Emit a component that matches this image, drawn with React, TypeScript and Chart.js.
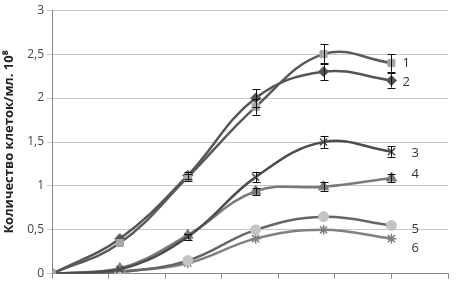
import React, { useEffect, useRef } from "react";
import { Chart, registerables } from "chart.js";

Chart.register(...registerables);

const hours = [0, 24, 48, 72, 96, 120];
const series1 = [0, 0.35, 1.1, 1.9, 2.5, 2.4];
const series2 = [0, 0.4, 1.12, 2.0, 2.3, 2.2];
const series3 = [0, 0.05, 0.42, 1.1, 1.5, 1.39];
const series4 = [0, 0.06, 0.44, 0.94, 0.99, 1.09];
const series5 = [0, 0.02, 0.15, 0.5, 0.65, 0.55];
const series6 = [0, 0.03, 0.12, 0.4, 0.5, 0.4];
const errors1 = [0, 0, 0.04, 0.09, 0.11, 0.1];
const errors2 = [0, 0, 0.04, 0.1, 0.1, 0.08];
const errors3 = [0, 0, 0.03, 0.06, 0.07, 0.06];
const errors4 = [0, 0, 0, 0.04, 0.05, 0.05];
const errors5 = [0, 0, 0, 0, 0, 0];
const errors6 = [0, 0, 0, 0, 0, 0];
const seriesLabels = ["1", "2", "3", "4", "5", "6"];
const yTicks = [0, 0.5, 1, 1.5, 2, 2.5, 3];

const allSeries = [series1, series2, series3, series4, series5, series6];
const allErrors = [errors1, errors2, errors3, errors4, errors5, errors6];

const styles = [
  { line: "#5a5a5a", fill: "#a6a6a6", point: "rect", r: 5 },
  { line: "#555555", fill: "#555555", point: "rectRot", r: 5 },
  { line: "#4d4d4d", fill: "#4d4d4d", point: "crossRot", r: 5 },
  { line: "#7a7a7a", fill: "#7a7a7a", point: "triangle", r: 6 },
  { line: "#666666", fill: "#c4c4c4", point: "circle", r: 5 },
  { line: "#808080", fill: "#808080", point: "star", r: 5 },
];

const labelOffsets = [
  { dx: 11, dy: 0 },
  { dx: 11, dy: 2 },
  { dx: 20, dy: 2 },
  { dx: 20, dy: -4 },
  { dx: 20, dy: 4 },
  { dx: 20, dy: 10 },
];

const overlayPlugin = {
  id: "overlay",
  afterDatasetsDraw(chart: any) {
    const ctx = chart.ctx;
    const xs = chart.scales.x;
    const ys = chart.scales.y;
    ctx.save();
    ctx.strokeStyle = "#111";
    ctx.lineWidth = 1;
    allSeries.forEach((vals, i) => {
      vals.forEach((v, j) => {
        const e = allErrors[i][j];
        if (!e) return;
        const x = Math.round(xs.getPixelForValue(hours[j])) + 0.5;
        const y1 = ys.getPixelForValue(v + e);
        const y2 = ys.getPixelForValue(v - e);
        ctx.beginPath();
        ctx.moveTo(x, y1);
        ctx.lineTo(x, y2);
        ctx.moveTo(x - 4, Math.round(y1) + 0.5);
        ctx.lineTo(x + 4, Math.round(y1) + 0.5);
        ctx.moveTo(x - 4, Math.round(y2) + 0.5);
        ctx.lineTo(x + 4, Math.round(y2) + 0.5);
        ctx.stroke();
      });
    });
    ctx.fillStyle = "#333";
    ctx.font = "13px 'Open Sans'";
    ctx.textBaseline = "middle";
    ctx.textAlign = "left";
    allSeries.forEach((vals, i) => {
      const last = vals.length - 1;
      const x = xs.getPixelForValue(hours[last]) + labelOffsets[i].dx;
      const y = ys.getPixelForValue(vals[last]) + labelOffsets[i].dy;
      ctx.fillText(seriesLabels[i], x, y);
    });
    ctx.restore();
  },
};

export default function App() {
  const ref = useRef<HTMLCanvasElement>(null);
  useEffect(() => {
    document.body.style.margin = "0";
    const canvas = ref.current!;
    const chart = new Chart(canvas, {
      type: "line",
      data: {
        datasets: allSeries.map((vals, i) => ({
          label: seriesLabels[i],
          data: vals.map((v, j) => ({ x: hours[j], y: v })),
          borderColor: styles[i].line,
          backgroundColor: styles[i].fill,
          pointBackgroundColor: styles[i].fill,
          pointBorderColor: styles[i].point === "crossRot" || styles[i].point === "star" ? styles[i].line : styles[i].fill,
          pointBorderWidth: styles[i].point === "crossRot" || styles[i].point === "star" ? 1.5 : 1,
          pointStyle: styles[i].point as any,
          pointRadius: styles[i].r,
          borderWidth: 2.5,
          tension: 0.4,
          fill: false,
        })),
      },
      options: {
        responsive: false,
        animation: false,
        events: [],
        layout: { padding: { top: 9, right: 12, left: 0, bottom: 0 } },
        plugins: {
          legend: { display: false },
          tooltip: { enabled: false },
        },
        scales: {
          x: {
            type: "linear",
            min: 0,
            max: 140,
            ticks: { display: false, stepSize: 20 },
            grid: {
              drawOnChartArea: false,
              drawTicks: true,
              tickLength: 5,
              color: "#8a8a8a",
            },
            border: { display: true, color: "#8a8a8a" },
            afterFit: (s: any) => {
              s.height = 9;
            },
          },
          y: {
            min: 0,
            max: 3,
            afterBuildTicks: (s: any) => {
              s.ticks = yTicks.map((v) => ({ value: v }));
            },
            ticks: {
              color: "#444",
              font: { family: "'Open Sans'", size: 12 },
              padding: 3,
              callback: (v: any) => String(v).replace(".", ","),
            },
            grid: { color: "#c6c6c6", tickLength: 5, lineWidth: 1 },
            border: { display: true, color: "#8a8a8a" },
            title: {
              display: true,
              text: "Количество клеток/мл. 10⁸",
              color: "#222",
              font: { family: "'Open Sans'", size: 13, weight: "bold" },
              padding: { top: 1, bottom: 0 },
            },
            afterFit: (s: any) => {
              s.width = 52;
            },
          },
        },
      },
      plugins: [overlayPlugin],
    });
    return () => chart.destroy();
  }, []);
  return (
    <div style={{ width: 460, height: 284 }}>
      <canvas ref={ref} width={460} height={284} />
    </div>
  );
}
